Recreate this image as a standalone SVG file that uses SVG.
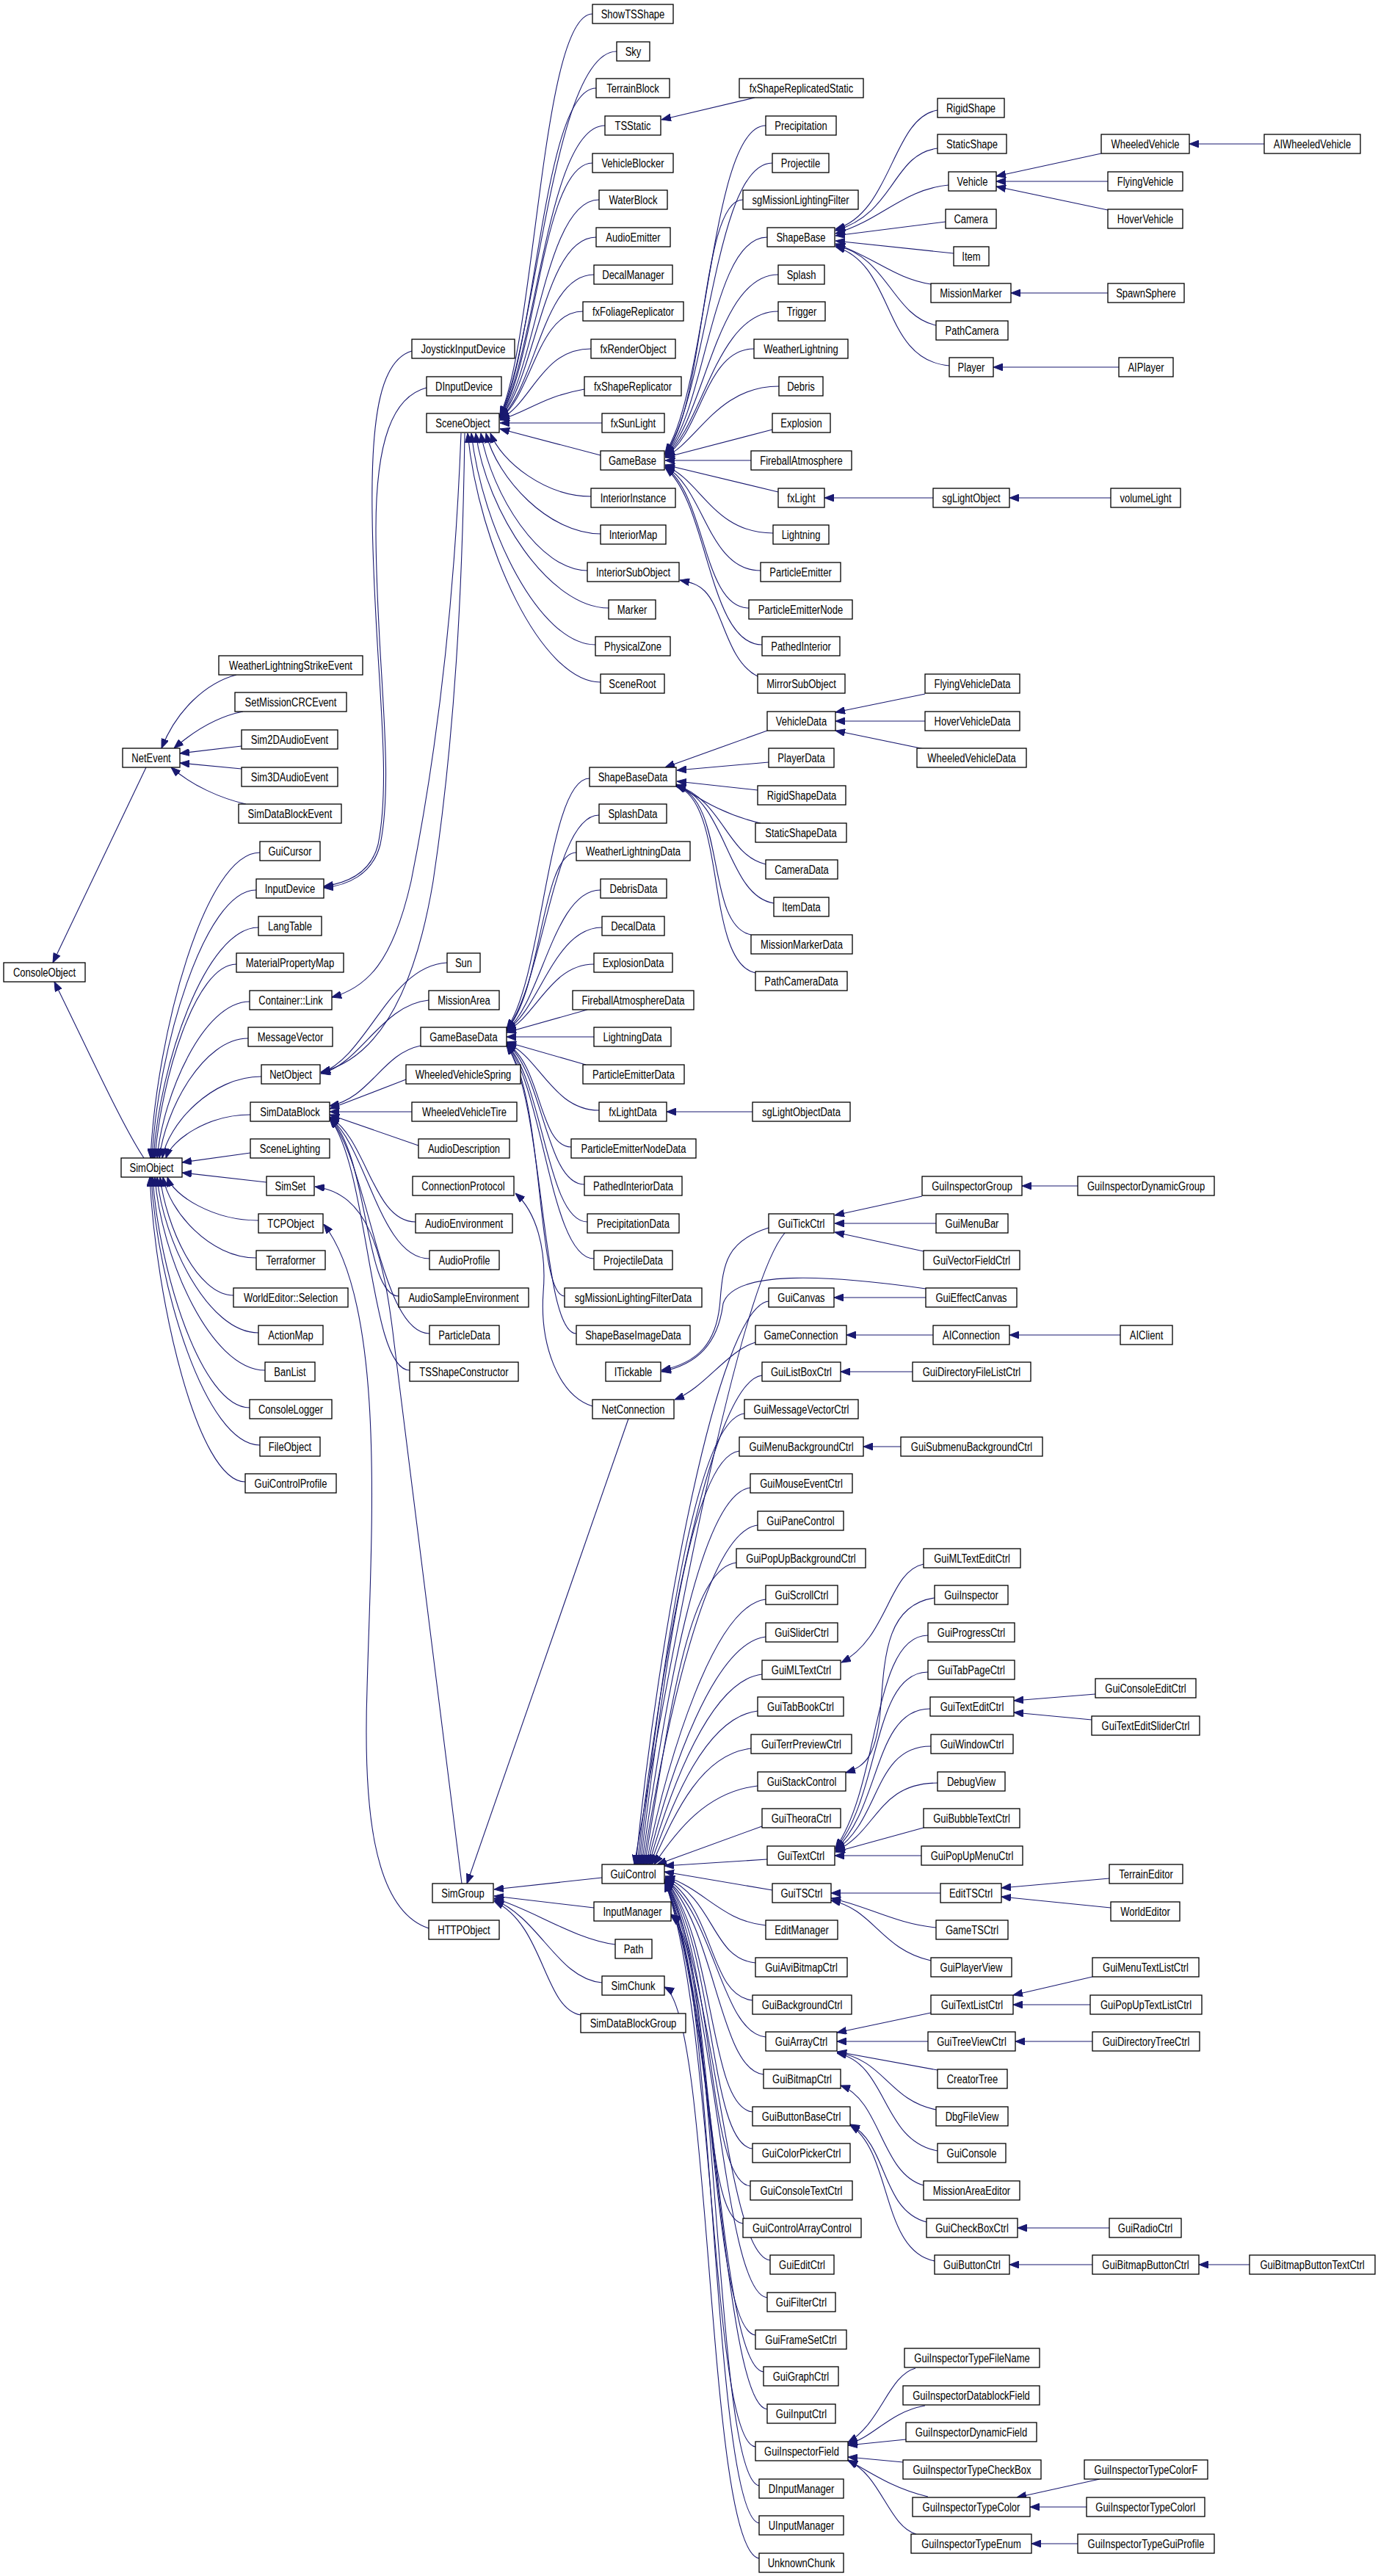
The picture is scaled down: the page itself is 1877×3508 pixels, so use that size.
<svg xmlns="http://www.w3.org/2000/svg" width="1877" height="3508" viewBox="0 0 1877 3508">
<style>
.n rect{fill:#fff;stroke:#000;stroke-width:1.3}
.n text{font-family:"Liberation Sans",Arial,Helvetica,sans-serif;font-size:13px;text-anchor:middle;fill:#000}
.e path{fill:none;stroke:#191970;stroke-width:1.1;marker-end:url(#a)}
</style>
<defs>
<marker id="a" viewBox="0 0 13 10" refX="13" refY="5" markerWidth="13" markerHeight="10" markerUnits="userSpaceOnUse" orient="auto"><path d="M0,0 L13,5 L0,10 z" fill="#191970" stroke="#191970" stroke-width="1"/></marker>
</defs>
<rect x="0" y="0" width="1877" height="3508" fill="#fff"/>
<g id="edges" class="e">
<path d="M199,1045 L72,1311"/>
<path d="M196,1577 C165,1530 120,1430 74,1337"/>
<path d="M322,919 C280,930 240,968 220,1019"/>
<path d="M331,969 C300,975 268,992 237,1019"/>
<path d="M329,1016 L245,1026"/>
<path d="M329,1047 L245,1039"/>
<path d="M335,1095 C300,1087 262,1070 233,1045"/>
<path d="M354,1161 C279,1161 213,1410 205,1577"/>
<path d="M349,1212 C278,1212 215,1430 207,1577"/>
<path d="M352,1263 C280,1263 217,1451 209,1577"/>
<path d="M322,1313 C266,1313 219,1471 211,1577"/>
<path d="M340,1364 C277,1364 222,1491 214,1577"/>
<path d="M338,1414 C277,1414 225,1511 217,1577"/>
<path d="M356,1466 C288,1466 229,1531 221,1577"/>
<path d="M341,1518 C283,1518 234,1552 226,1577"/>
<path d="M341,1570 L248,1583"/>
<path d="M363,1610 L248,1597"/>
<path d="M352,1662 C290,1662 236,1628 228,1603"/>
<path d="M349,1713 C285,1713 230,1648 222,1603"/>
<path d="M318,1764 C268,1764 226,1669 218,1603"/>
<path d="M352,1815 C283,1815 222,1689 214,1603"/>
<path d="M361,1866 C286,1866 219,1709 211,1603"/>
<path d="M340,1917 C274,1917 216,1729 208,1603"/>
<path d="M354,1968 C280,1968 214,1750 206,1603"/>
<path d="M334,2018 C269,2018 212,1770 204,1603"/>
<path d="M561,478 C520,490 505,560 507,700 C509,900 535,1050 515,1150 C505,1190 470,1203 441,1207"/>
<path d="M581,528 C535,540 512,600 512,720 C512,900 538,1050 518,1150 C507,1192 472,1206 441,1209"/>
<path d="M628,590 C620,800 600,1000 560,1200 C535,1310 500,1345 452,1358"/>
<path d="M633,590 C630,800 620,1000 590,1200 C560,1380 500,1445 437,1460"/>
<path d="M609,1311 C530,1315 500,1440 437,1461"/>
<path d="M584,1362 C520,1368 490,1450 437,1462"/>
<path d="M573,1424 C520,1435 505,1495 449,1506"/>
<path d="M553,1470 L449,1510"/>
<path d="M561,1514 L449,1514"/>
<path d="M570,1560 L449,1518"/>
<path d="M566,1664 C508,1664 500,1551 449,1521"/>
<path d="M585,1714 C517,1714 500,1561 449,1522"/>
<path d="M543,1765 C496,1765 502,1571 449,1522"/>
<path d="M585,1816 C517,1816 502,1581 449,1523"/>
<path d="M558,1866 C503,1866 503,1591 449,1523"/>
<path d="M807,19 C738,19 730,457 681,566"/>
<path d="M840,70 C753,70 730,468 681,567"/>
<path d="M812,120 C740,120 730,478 681,567"/>
<path d="M824,171 C745,171 730,488 681,568"/>
<path d="M807,222 C738,222 730,498 681,568"/>
<path d="M816,272 C742,272 730,508 681,569"/>
<path d="M812,323 C740,323 730,518 681,569"/>
<path d="M809,374 C739,374 730,528 681,570"/>
<path d="M794,424 C732,424 725,538 681,570"/>
<path d="M805,475 C737,475 725,549 681,571"/>
<path d="M796,530 C740,540 720,560 681,572"/>
<path d="M820,576 L681,576"/>
<path d="M818,620 L681,584"/>
<path d="M805,676 C743,676 683,629 668,590"/>
<path d="M818,727 C748,727 677,652 662,590"/>
<path d="M800,777 C735,777 670,674 655,590"/>
<path d="M829,828 C748,828 663,697 648,590"/>
<path d="M811,878 C735,878 657,720 642,590"/>
<path d="M818,929 C737,929 652,743 637,590"/>
<path d="M1028,133 L901,163"/>
<path d="M1032,921 C990,900 985,830 960,805 C950,795 940,793 926,790"/>
<path d="M1043,171 C968,171 965,528 906,617"/>
<path d="M1052,222 C972,222 965,538 906,618"/>
<path d="M1012,272 C954,272 962,550 906,619"/>
<path d="M1045,323 C969,323 962,560 906,619"/>
<path d="M1060,374 C975,374 960,571 906,620"/>
<path d="M1060,424 C975,424 958,581 906,621"/>
<path d="M1027,475 C960,475 955,592 906,621"/>
<path d="M1061,526 C976,526 950,603 906,622"/>
<path d="M1052,585 L906,623"/>
<path d="M1023,627 L906,627"/>
<path d="M1060,670 L906,633"/>
<path d="M1053,726 C972,726 955,654 906,634"/>
<path d="M1036,777 C964,777 960,665 906,635"/>
<path d="M1020,828 C957,828 962,675 906,636"/>
<path d="M1038,878 C965,878 965,685 906,637"/>
<path d="M1277,150 C1215,160 1215,290 1138,312"/>
<path d="M1277,202 C1215,210 1220,290 1138,314"/>
<path d="M1292,252 C1230,258 1200,300 1138,318"/>
<path d="M1288,302 L1138,321"/>
<path d="M1299,345 L1138,328"/>
<path d="M1268,387 C1220,380 1190,350 1138,332"/>
<path d="M1275,443 C1215,430 1210,350 1138,334"/>
<path d="M1293,498 C1200,490 1220,360 1138,336"/>
<path d="M1500,209 L1357,240"/>
<path d="M1509,247 L1357,247"/>
<path d="M1509,286 L1357,254"/>
<path d="M1722,196 L1620,196"/>
<path d="M1509,399 L1377,399"/>
<path d="M1524,500 L1353,500"/>
<path d="M1271,678 L1123,678"/>
<path d="M1513,678 L1375,678"/>
<path d="M803,1060 C746,1060 740,1332 690,1401"/>
<path d="M816,1110 C753,1110 740,1342 690,1402"/>
<path d="M785,1161 C737,1161 738,1353 690,1402"/>
<path d="M818,1212 C754,1212 738,1364 690,1403"/>
<path d="M820,1263 C755,1263 735,1375 690,1403"/>
<path d="M809,1313 C750,1313 730,1385 690,1404"/>
<path d="M800,1375 L690,1406"/>
<path d="M809,1412 L690,1412"/>
<path d="M798,1450 L690,1419"/>
<path d="M816,1512 C753,1512 735,1439 690,1420"/>
<path d="M778,1562 C734,1562 738,1450 690,1421"/>
<path d="M796,1613 C743,1613 740,1460 690,1421"/>
<path d="M800,1664 C745,1664 740,1471 690,1422"/>
<path d="M809,1714 C750,1714 740,1481 690,1422"/>
<path d="M769,1765 C730,1765 742,1492 690,1423"/>
<path d="M785,1816 C737,1816 742,1502 690,1423"/>
<path d="M1045,995 L906,1045"/>
<path d="M1047,1038 L922,1049"/>
<path d="M1032,1076 L922,1064"/>
<path d="M1036,1121 C980,1108 950,1085 921,1068"/>
<path d="M1043,1177 C990,1165 985,1090 921,1069"/>
<path d="M1054,1230 C990,1220 990,1090 921,1070"/>
<path d="M1023,1273 C960,1260 990,1090 921,1070"/>
<path d="M1029,1325 C960,1310 990,1090 921,1071"/>
<path d="M1260,945 L1138,970"/>
<path d="M1260,982 L1138,982"/>
<path d="M1259,1020 L1138,995"/>
<path d="M1025,1514 L908,1514"/>
<path d="M807,1915 C760,1900 735,1830 740,1760 C745,1700 730,1650 702,1625"/>
<path d="M856,1932 L636,2565"/>
<path d="M1029,1828 C990,1840 960,1890 919,1906"/>
<path d="M1047,1672 C990,1690 985,1720 981,1770 C977,1830 950,1856 901,1866"/>
<path d="M1261,1755 C1120,1735 1000,1730 985,1775 C978,1830 950,1858 901,1868"/>
<path d="M1256,1629 L1137,1655"/>
<path d="M1275,1666 L1137,1666"/>
<path d="M1258,1704 L1137,1678"/>
<path d="M1468,1615 L1392,1615"/>
<path d="M1261,1767 L1136,1767"/>
<path d="M1271,1818 L1153,1818"/>
<path d="M1526,1818 L1375,1818"/>
<path d="M1243,1868 L1145,1868"/>
<path d="M1227,1970 L1176,1970"/>
<path d="M1258,2130 C1210,2140 1210,2230 1146,2264"/>
<path d="M1273,2176 C1210,2185 1205,2250 1200,2320 C1195,2390 1180,2405 1152,2414"/>
<path d="M1264,2227 C1188,2227 1200,2427 1138,2517"/>
<path d="M1264,2277 C1188,2277 1200,2445 1138,2518"/>
<path d="M1267,2327 C1190,2327 1200,2462 1138,2519"/>
<path d="M1268,2378 C1190,2378 1200,2478 1138,2520"/>
<path d="M1277,2428 C1195,2428 1195,2495 1138,2521"/>
<path d="M1258,2489 L1138,2522"/>
<path d="M1255,2527 L1137,2527"/>
<path d="M1492,2307 L1381,2316"/>
<path d="M1487,2342 L1381,2332"/>
<path d="M1281,2578 L1132,2578"/>
<path d="M1275,2625 C1220,2620 1180,2595 1132,2585"/>
<path d="M1268,2670 C1200,2655 1190,2600 1132,2588"/>
<path d="M1511,2558 L1364,2571"/>
<path d="M1513,2598 L1364,2583"/>
<path d="M1268,2741 L1140,2768"/>
<path d="M1264,2780 L1140,2780"/>
<path d="M1277,2819 L1140,2794"/>
<path d="M1275,2873 C1210,2860 1205,2805 1140,2795"/>
<path d="M1277,2929 C1200,2915 1210,2810 1140,2796"/>
<path d="M1488,2692 L1380,2717"/>
<path d="M1485,2730 L1380,2730"/>
<path d="M1488,2780 L1383,2780"/>
<path d="M1258,2976 C1200,2960 1200,2860 1145,2840"/>
<path d="M1262,3026 C1200,3010 1210,2920 1158,2893"/>
<path d="M1273,3079 C1200,3065 1215,2930 1158,2894"/>
<path d="M1511,3034 L1386,3034"/>
<path d="M1488,3084 L1375,3084"/>
<path d="M1702,3084 L1633,3084"/>
<path d="M1247,3225 C1210,3235 1200,3300 1155,3326"/>
<path d="M1260,3276 C1210,3285 1190,3320 1155,3328"/>
<path d="M1234,3322 L1155,3330"/>
<path d="M1230,3353 L1155,3346"/>
<path d="M1264,3400 C1220,3390 1190,3370 1155,3350"/>
<path d="M1248,3451 C1210,3440 1200,3370 1155,3351"/>
<path d="M1498,3376 L1385,3401"/>
<path d="M1480,3414 L1403,3414"/>
<path d="M1468,3464 L1405,3464"/>
<path d="M1047,1772 C977,1780 896,2230 866,2539"/>
<path d="M1038,1873 C968,1881 898,2271 868,2539"/>
<path d="M1014,1925 C944,1933 900,2291 870,2539"/>
<path d="M1007,1976 C937,1984 902,2311 872,2539"/>
<path d="M1022,2026 C952,2034 904,2331 874,2539"/>
<path d="M1032,2077 C962,2085 906,2352 876,2539"/>
<path d="M1003,2128 C933,2136 908,2372 878,2539"/>
<path d="M1043,2178 C973,2186 910,2392 880,2539"/>
<path d="M1043,2229 C973,2237 912,2413 882,2539"/>
<path d="M1038,2280 C968,2288 914,2433 884,2539"/>
<path d="M1032,2330 C962,2338 916,2453 886,2539"/>
<path d="M1023,2381 C953,2389 918,2473 888,2539"/>
<path d="M1032,2432 C962,2440 921,2494 891,2539"/>
<path d="M1038,2487 L895,2539"/>
<path d="M1069,1679 Q1000,1760 864,2539"/>
<path d="M1045,2532 L905,2541"/>
<path d="M1052,2574 L905,2549"/>
<path d="M1043,2622 C983,2616 960,2573 906,2555"/>
<path d="M1029,2673 C969,2667 975,2587 906,2556"/>
<path d="M1025,2724 C965,2718 975,2600 906,2557"/>
<path d="M1043,2774 C983,2768 975,2613 906,2558"/>
<path d="M1040,2825 C980,2819 975,2626 906,2558"/>
<path d="M1025,2876 C965,2870 975,2640 906,2559"/>
<path d="M1025,2926 C965,2920 975,2652 906,2559"/>
<path d="M1022,2977 C962,2971 975,2666 906,2560"/>
<path d="M1012,3028 C952,3022 975,2678 906,2560"/>
<path d="M1049,3078 C989,3072 975,2692 906,2561"/>
<path d="M1045,3129 C985,3123 975,2704 906,2561"/>
<path d="M1029,3180 C969,3174 975,2718 906,2562"/>
<path d="M1040,3230 C980,3224 975,2730 906,2562"/>
<path d="M1045,3281 C985,3275 975,2744 906,2563"/>
<path d="M1029,3332 C969,3326 975,2757 906,2563"/>
<path d="M1034,3385 C972,3375 978,2650 914,2607"/>
<path d="M1034,3436 C970,3426 972,2655 914,2609"/>
<path d="M1034,3484 C962,3472 970,2740 905,2706"/>
<path d="M820,2557 L673,2573"/>
<path d="M809,2598 L673,2582"/>
<path d="M838,2648 C780,2640 725,2600 673,2585"/>
<path d="M820,2700 C760,2695 735,2612 673,2587"/>
<path d="M791,2744 C740,2735 742,2622 673,2589"/>
<path d="M629,2565 L537,1830 C522,1700 500,1625 429,1616"/>
<path d="M584,2626 C505,2600 495,2450 500,2300 C505,2100 528,1780 441,1667"/>
</g>
<g id="ConsoleObject" class="n"><rect x="5" y="1311" width="111" height="26"/><text transform="matrix(1 0 0 1.2 60.5 1329.5)">ConsoleObject</text></g>
<g id="NetEvent" class="n"><rect x="167" y="1019" width="78" height="26"/><text transform="matrix(1 0 0 1.2 206 1037.5)">NetEvent</text></g>
<g id="SimObject" class="n"><rect x="165" y="1577" width="83" height="26"/><text transform="matrix(1 0 0 1.2 206.5 1595.5)">SimObject</text></g>
<g id="WeatherLightningStrikeEvent" class="n"><rect x="298" y="893" width="196" height="26"/><text transform="matrix(1 0 0 1.2 396 911.5)">WeatherLightningStrikeEvent</text></g>
<g id="SetMissionCRCEvent" class="n"><rect x="320" y="943" width="152" height="26"/><text transform="matrix(1 0 0 1.2 396 961.5)">SetMissionCRCEvent</text></g>
<g id="Sim2DAudioEvent" class="n"><rect x="329" y="994" width="131" height="26"/><text transform="matrix(1 0 0 1.2 394.5 1012.5)">Sim2DAudioEvent</text></g>
<g id="Sim3DAudioEvent" class="n"><rect x="329" y="1045" width="131" height="26"/><text transform="matrix(1 0 0 1.2 394.5 1063.5)">Sim3DAudioEvent</text></g>
<g id="SimDataBlockEvent" class="n"><rect x="325" y="1095" width="140" height="26"/><text transform="matrix(1 0 0 1.2 395 1113.5)">SimDataBlockEvent</text></g>
<g id="GuiCursor" class="n"><rect x="354" y="1146" width="82" height="26"/><text transform="matrix(1 0 0 1.2 395 1164.5)">GuiCursor</text></g>
<g id="InputDevice" class="n"><rect x="349" y="1197" width="92" height="26"/><text transform="matrix(1 0 0 1.2 395 1215.5)">InputDevice</text></g>
<g id="LangTable" class="n"><rect x="352" y="1248" width="86" height="26"/><text transform="matrix(1 0 0 1.2 395 1266.5)">LangTable</text></g>
<g id="MaterialPropertyMap" class="n"><rect x="322" y="1298" width="146" height="26"/><text transform="matrix(1 0 0 1.2 395 1316.5)">MaterialPropertyMap</text></g>
<g id="Container_Link" class="n"><rect x="340" y="1349" width="112" height="26"/><text transform="matrix(1 0 0 1.2 396 1367.5)">Container::Link</text></g>
<g id="MessageVector" class="n"><rect x="338" y="1399" width="115" height="26"/><text transform="matrix(1 0 0 1.2 395.5 1417.5)">MessageVector</text></g>
<g id="NetObject" class="n"><rect x="356" y="1450" width="80" height="26"/><text transform="matrix(1 0 0 1.2 396 1468.5)">NetObject</text></g>
<g id="SimDataBlock" class="n"><rect x="341" y="1501" width="108" height="26"/><text transform="matrix(1 0 0 1.2 395 1519.5)">SimDataBlock</text></g>
<g id="SceneLighting" class="n"><rect x="341" y="1551" width="108" height="26"/><text transform="matrix(1 0 0 1.2 395 1569.5)">SceneLighting</text></g>
<g id="SimSet" class="n"><rect x="363" y="1602" width="65" height="26"/><text transform="matrix(1 0 0 1.2 395.5 1620.5)">SimSet</text></g>
<g id="TCPObject" class="n"><rect x="352" y="1653" width="88" height="26"/><text transform="matrix(1 0 0 1.2 396 1671.5)">TCPObject</text></g>
<g id="Terraformer" class="n"><rect x="349" y="1703" width="94" height="26"/><text transform="matrix(1 0 0 1.2 396 1721.5)">Terraformer</text></g>
<g id="WorldEditor_Selection" class="n"><rect x="318" y="1754" width="156" height="26"/><text transform="matrix(1 0 0 1.2 396 1772.5)">WorldEditor::Selection</text></g>
<g id="ActionMap" class="n"><rect x="352" y="1805" width="88" height="26"/><text transform="matrix(1 0 0 1.2 396 1823.5)">ActionMap</text></g>
<g id="BanList" class="n"><rect x="361" y="1855" width="68" height="26"/><text transform="matrix(1 0 0 1.2 395 1873.5)">BanList</text></g>
<g id="ConsoleLogger" class="n"><rect x="340" y="1906" width="112" height="26"/><text transform="matrix(1 0 0 1.2 396 1924.5)">ConsoleLogger</text></g>
<g id="FileObject" class="n"><rect x="354" y="1957" width="82" height="26"/><text transform="matrix(1 0 0 1.2 395 1975.5)">FileObject</text></g>
<g id="GuiControlProfile" class="n"><rect x="334" y="2007" width="124" height="26"/><text transform="matrix(1 0 0 1.2 396 2025.5)">GuiControlProfile</text></g>
<g id="JoystickInputDevice" class="n"><rect x="561" y="462" width="140" height="26"/><text transform="matrix(1 0 0 1.2 631 480.5)">JoystickInputDevice</text></g>
<g id="DInputDevice" class="n"><rect x="581" y="513" width="102" height="26"/><text transform="matrix(1 0 0 1.2 632 531.5)">DInputDevice</text></g>
<g id="SceneObject" class="n"><rect x="581" y="563" width="99" height="26"/><text transform="matrix(1 0 0 1.2 630.5 581.5)">SceneObject</text></g>
<g id="Sun" class="n"><rect x="609" y="1298" width="45" height="26"/><text transform="matrix(1 0 0 1.2 631.5 1316.5)">Sun</text></g>
<g id="MissionArea" class="n"><rect x="584" y="1349" width="96" height="26"/><text transform="matrix(1 0 0 1.2 632 1367.5)">MissionArea</text></g>
<g id="GameBaseData" class="n"><rect x="573" y="1399" width="117" height="26"/><text transform="matrix(1 0 0 1.2 631.5 1417.5)">GameBaseData</text></g>
<g id="WheeledVehicleSpring" class="n"><rect x="553" y="1450" width="156" height="26"/><text transform="matrix(1 0 0 1.2 631 1468.5)">WheeledVehicleSpring</text></g>
<g id="WheeledVehicleTire" class="n"><rect x="561" y="1501" width="143" height="26"/><text transform="matrix(1 0 0 1.2 632.5 1519.5)">WheeledVehicleTire</text></g>
<g id="AudioDescription" class="n"><rect x="570" y="1551" width="124" height="26"/><text transform="matrix(1 0 0 1.2 632 1569.5)">AudioDescription</text></g>
<g id="ConnectionProtocol" class="n"><rect x="562" y="1602" width="138" height="26"/><text transform="matrix(1 0 0 1.2 631 1620.5)">ConnectionProtocol</text></g>
<g id="AudioEnvironment" class="n"><rect x="566" y="1653" width="132" height="26"/><text transform="matrix(1 0 0 1.2 632 1671.5)">AudioEnvironment</text></g>
<g id="AudioProfile" class="n"><rect x="585" y="1703" width="95" height="26"/><text transform="matrix(1 0 0 1.2 632.5 1721.5)">AudioProfile</text></g>
<g id="AudioSampleEnvironment" class="n"><rect x="543" y="1754" width="177" height="26"/><text transform="matrix(1 0 0 1.2 631.5 1772.5)">AudioSampleEnvironment</text></g>
<g id="ParticleData" class="n"><rect x="585" y="1805" width="95" height="26"/><text transform="matrix(1 0 0 1.2 632.5 1823.5)">ParticleData</text></g>
<g id="TSShapeConstructor" class="n"><rect x="558" y="1855" width="148" height="26"/><text transform="matrix(1 0 0 1.2 632 1873.5)">TSShapeConstructor</text></g>
<g id="SimGroup" class="n"><rect x="589" y="2565" width="83" height="26"/><text transform="matrix(1 0 0 1.2 630.5 2583.5)">SimGroup</text></g>
<g id="HTTPObject" class="n"><rect x="584" y="2615" width="96" height="26"/><text transform="matrix(1 0 0 1.2 632 2633.5)">HTTPObject</text></g>
<g id="ShowTSShape" class="n"><rect x="807" y="6" width="110" height="26"/><text transform="matrix(1 0 0 1.2 862 24.5)">ShowTSShape</text></g>
<g id="Sky" class="n"><rect x="840" y="57" width="45" height="26"/><text transform="matrix(1 0 0 1.2 862.5 75.5)">Sky</text></g>
<g id="TerrainBlock" class="n"><rect x="812" y="107" width="100" height="26"/><text transform="matrix(1 0 0 1.2 862 125.5)">TerrainBlock</text></g>
<g id="TSStatic" class="n"><rect x="824" y="158" width="76" height="26"/><text transform="matrix(1 0 0 1.2 862 176.5)">TSStatic</text></g>
<g id="VehicleBlocker" class="n"><rect x="807" y="209" width="110" height="26"/><text transform="matrix(1 0 0 1.2 862 227.5)">VehicleBlocker</text></g>
<g id="WaterBlock" class="n"><rect x="816" y="259" width="93" height="26"/><text transform="matrix(1 0 0 1.2 862.5 277.5)">WaterBlock</text></g>
<g id="AudioEmitter" class="n"><rect x="812" y="310" width="101" height="26"/><text transform="matrix(1 0 0 1.2 862.5 328.5)">AudioEmitter</text></g>
<g id="DecalManager" class="n"><rect x="809" y="361" width="107" height="26"/><text transform="matrix(1 0 0 1.2 862.5 379.5)">DecalManager</text></g>
<g id="fxFoliageReplicator" class="n"><rect x="794" y="411" width="137" height="26"/><text transform="matrix(1 0 0 1.2 862.5 429.5)">fxFoliageReplicator</text></g>
<g id="fxRenderObject" class="n"><rect x="805" y="462" width="115" height="26"/><text transform="matrix(1 0 0 1.2 862.5 480.5)">fxRenderObject</text></g>
<g id="fxShapeReplicator" class="n"><rect x="796" y="513" width="132" height="26"/><text transform="matrix(1 0 0 1.2 862 531.5)">fxShapeReplicator</text></g>
<g id="fxSunLight" class="n"><rect x="820" y="563" width="85" height="26"/><text transform="matrix(1 0 0 1.2 862.5 581.5)">fxSunLight</text></g>
<g id="GameBase" class="n"><rect x="818" y="614" width="87" height="26"/><text transform="matrix(1 0 0 1.2 861.5 632.5)">GameBase</text></g>
<g id="InteriorInstance" class="n"><rect x="805" y="665" width="115" height="26"/><text transform="matrix(1 0 0 1.2 862.5 683.5)">InteriorInstance</text></g>
<g id="InteriorMap" class="n"><rect x="818" y="715" width="89" height="26"/><text transform="matrix(1 0 0 1.2 862.5 733.5)">InteriorMap</text></g>
<g id="InteriorSubObject" class="n"><rect x="800" y="766" width="125" height="26"/><text transform="matrix(1 0 0 1.2 862.5 784.5)">InteriorSubObject</text></g>
<g id="Marker" class="n"><rect x="829" y="817" width="64" height="26"/><text transform="matrix(1 0 0 1.2 861 835.5)">Marker</text></g>
<g id="PhysicalZone" class="n"><rect x="811" y="867" width="102" height="26"/><text transform="matrix(1 0 0 1.2 862 885.5)">PhysicalZone</text></g>
<g id="SceneRoot" class="n"><rect x="818" y="918" width="87" height="26"/><text transform="matrix(1 0 0 1.2 861.5 936.5)">SceneRoot</text></g>
<g id="ShapeBaseData" class="n"><rect x="803" y="1045" width="118" height="26"/><text transform="matrix(1 0 0 1.2 862 1063.5)">ShapeBaseData</text></g>
<g id="SplashData" class="n"><rect x="816" y="1095" width="92" height="26"/><text transform="matrix(1 0 0 1.2 862 1113.5)">SplashData</text></g>
<g id="WeatherLightningData" class="n"><rect x="785" y="1146" width="155" height="26"/><text transform="matrix(1 0 0 1.2 862.5 1164.5)">WeatherLightningData</text></g>
<g id="DebrisData" class="n"><rect x="818" y="1197" width="90" height="26"/><text transform="matrix(1 0 0 1.2 863 1215.5)">DebrisData</text></g>
<g id="DecalData" class="n"><rect x="820" y="1248" width="85" height="26"/><text transform="matrix(1 0 0 1.2 862.5 1266.5)">DecalData</text></g>
<g id="ExplosionData" class="n"><rect x="809" y="1298" width="107" height="26"/><text transform="matrix(1 0 0 1.2 862.5 1316.5)">ExplosionData</text></g>
<g id="FireballAtmosphereData" class="n"><rect x="780" y="1349" width="165" height="26"/><text transform="matrix(1 0 0 1.2 862.5 1367.5)">FireballAtmosphereData</text></g>
<g id="LightningData" class="n"><rect x="809" y="1399" width="105" height="26"/><text transform="matrix(1 0 0 1.2 861.5 1417.5)">LightningData</text></g>
<g id="ParticleEmitterData" class="n"><rect x="794" y="1450" width="138" height="26"/><text transform="matrix(1 0 0 1.2 863 1468.5)">ParticleEmitterData</text></g>
<g id="fxLightData" class="n"><rect x="816" y="1501" width="92" height="26"/><text transform="matrix(1 0 0 1.2 862 1519.5)">fxLightData</text></g>
<g id="ParticleEmitterNodeData" class="n"><rect x="778" y="1551" width="170" height="26"/><text transform="matrix(1 0 0 1.2 863 1569.5)">ParticleEmitterNodeData</text></g>
<g id="PathedInteriorData" class="n"><rect x="796" y="1602" width="133" height="26"/><text transform="matrix(1 0 0 1.2 862.5 1620.5)">PathedInteriorData</text></g>
<g id="PrecipitationData" class="n"><rect x="800" y="1653" width="125" height="26"/><text transform="matrix(1 0 0 1.2 862.5 1671.5)">PrecipitationData</text></g>
<g id="ProjectileData" class="n"><rect x="809" y="1703" width="107" height="26"/><text transform="matrix(1 0 0 1.2 862.5 1721.5)">ProjectileData</text></g>
<g id="sgMissionLightingFilterData" class="n"><rect x="769" y="1754" width="187" height="26"/><text transform="matrix(1 0 0 1.2 862.5 1772.5)">sgMissionLightingFilterData</text></g>
<g id="ShapeBaseImageData" class="n"><rect x="785" y="1805" width="155" height="26"/><text transform="matrix(1 0 0 1.2 862.5 1823.5)">ShapeBaseImageData</text></g>
<g id="ITickable" class="n"><rect x="825" y="1855" width="75" height="26"/><text transform="matrix(1 0 0 1.2 862.5 1873.5)">ITickable</text></g>
<g id="NetConnection" class="n"><rect x="807" y="1906" width="111" height="26"/><text transform="matrix(1 0 0 1.2 862.5 1924.5)">NetConnection</text></g>
<g id="GuiControl" class="n"><rect x="820" y="2539" width="85" height="26"/><text transform="matrix(1 0 0 1.2 862.5 2557.5)">GuiControl</text></g>
<g id="InputManager" class="n"><rect x="809" y="2590" width="105" height="26"/><text transform="matrix(1 0 0 1.2 861.5 2608.5)">InputManager</text></g>
<g id="Path" class="n"><rect x="838" y="2641" width="50" height="26"/><text transform="matrix(1 0 0 1.2 863 2659.5)">Path</text></g>
<g id="SimChunk" class="n"><rect x="820" y="2691" width="85" height="26"/><text transform="matrix(1 0 0 1.2 862.5 2709.5)">SimChunk</text></g>
<g id="SimDataBlockGroup" class="n"><rect x="791" y="2742" width="143" height="26"/><text transform="matrix(1 0 0 1.2 862.5 2760.5)">SimDataBlockGroup</text></g>
<g id="fxShapeReplicatedStatic" class="n"><rect x="1007" y="107" width="169" height="26"/><text transform="matrix(1 0 0 1.2 1091.5 125.5)">fxShapeReplicatedStatic</text></g>
<g id="Precipitation" class="n"><rect x="1043" y="158" width="96" height="26"/><text transform="matrix(1 0 0 1.2 1091 176.5)">Precipitation</text></g>
<g id="Projectile" class="n"><rect x="1052" y="209" width="77" height="26"/><text transform="matrix(1 0 0 1.2 1090.5 227.5)">Projectile</text></g>
<g id="sgMissionLightingFilter" class="n"><rect x="1012" y="259" width="157" height="26"/><text transform="matrix(1 0 0 1.2 1090.5 277.5)">sgMissionLightingFilter</text></g>
<g id="ShapeBase" class="n"><rect x="1045" y="310" width="92" height="26"/><text transform="matrix(1 0 0 1.2 1091 328.5)">ShapeBase</text></g>
<g id="Splash" class="n"><rect x="1060" y="361" width="63" height="26"/><text transform="matrix(1 0 0 1.2 1091.5 379.5)">Splash</text></g>
<g id="Trigger" class="n"><rect x="1060" y="411" width="64" height="26"/><text transform="matrix(1 0 0 1.2 1092 429.5)">Trigger</text></g>
<g id="WeatherLightning" class="n"><rect x="1027" y="462" width="128" height="26"/><text transform="matrix(1 0 0 1.2 1091 480.5)">WeatherLightning</text></g>
<g id="Debris" class="n"><rect x="1061" y="513" width="60" height="26"/><text transform="matrix(1 0 0 1.2 1091 531.5)">Debris</text></g>
<g id="Explosion" class="n"><rect x="1052" y="563" width="79" height="26"/><text transform="matrix(1 0 0 1.2 1091.5 581.5)">Explosion</text></g>
<g id="FireballAtmosphere" class="n"><rect x="1023" y="614" width="137" height="26"/><text transform="matrix(1 0 0 1.2 1091.5 632.5)">FireballAtmosphere</text></g>
<g id="fxLight" class="n"><rect x="1060" y="665" width="63" height="26"/><text transform="matrix(1 0 0 1.2 1091.5 683.5)">fxLight</text></g>
<g id="Lightning" class="n"><rect x="1053" y="715" width="76" height="26"/><text transform="matrix(1 0 0 1.2 1091 733.5)">Lightning</text></g>
<g id="ParticleEmitter" class="n"><rect x="1036" y="766" width="109" height="26"/><text transform="matrix(1 0 0 1.2 1090.5 784.5)">ParticleEmitter</text></g>
<g id="ParticleEmitterNode" class="n"><rect x="1020" y="817" width="141" height="26"/><text transform="matrix(1 0 0 1.2 1090.5 835.5)">ParticleEmitterNode</text></g>
<g id="PathedInterior" class="n"><rect x="1038" y="867" width="106" height="26"/><text transform="matrix(1 0 0 1.2 1091 885.5)">PathedInterior</text></g>
<g id="MirrorSubObject" class="n"><rect x="1032" y="918" width="119" height="26"/><text transform="matrix(1 0 0 1.2 1091.5 936.5)">MirrorSubObject</text></g>
<g id="VehicleData" class="n"><rect x="1045" y="969" width="93" height="26"/><text transform="matrix(1 0 0 1.2 1091.5 987.5)">VehicleData</text></g>
<g id="PlayerData" class="n"><rect x="1047" y="1019" width="89" height="26"/><text transform="matrix(1 0 0 1.2 1091.5 1037.5)">PlayerData</text></g>
<g id="RigidShapeData" class="n"><rect x="1032" y="1070" width="120" height="26"/><text transform="matrix(1 0 0 1.2 1092 1088.5)">RigidShapeData</text></g>
<g id="StaticShapeData" class="n"><rect x="1029" y="1121" width="124" height="26"/><text transform="matrix(1 0 0 1.2 1091 1139.5)">StaticShapeData</text></g>
<g id="CameraData" class="n"><rect x="1043" y="1171" width="98" height="26"/><text transform="matrix(1 0 0 1.2 1092 1189.5)">CameraData</text></g>
<g id="ItemData" class="n"><rect x="1054" y="1222" width="75" height="26"/><text transform="matrix(1 0 0 1.2 1091.5 1240.5)">ItemData</text></g>
<g id="MissionMarkerData" class="n"><rect x="1023" y="1273" width="138" height="26"/><text transform="matrix(1 0 0 1.2 1092 1291.5)">MissionMarkerData</text></g>
<g id="PathCameraData" class="n"><rect x="1029" y="1323" width="125" height="26"/><text transform="matrix(1 0 0 1.2 1091.5 1341.5)">PathCameraData</text></g>
<g id="sgLightObjectData" class="n"><rect x="1025" y="1501" width="133" height="26"/><text transform="matrix(1 0 0 1.2 1091.5 1519.5)">sgLightObjectData</text></g>
<g id="GuiTickCtrl" class="n"><rect x="1047" y="1653" width="89" height="26"/><text transform="matrix(1 0 0 1.2 1091.5 1671.5)">GuiTickCtrl</text></g>
<g id="GuiCanvas" class="n"><rect x="1047" y="1754" width="89" height="26"/><text transform="matrix(1 0 0 1.2 1091.5 1772.5)">GuiCanvas</text></g>
<g id="GameConnection" class="n"><rect x="1029" y="1805" width="124" height="26"/><text transform="matrix(1 0 0 1.2 1091 1823.5)">GameConnection</text></g>
<g id="GuiListBoxCtrl" class="n"><rect x="1038" y="1855" width="107" height="26"/><text transform="matrix(1 0 0 1.2 1091.5 1873.5)">GuiListBoxCtrl</text></g>
<g id="GuiMessageVectorCtrl" class="n"><rect x="1014" y="1906" width="155" height="26"/><text transform="matrix(1 0 0 1.2 1091.5 1924.5)">GuiMessageVectorCtrl</text></g>
<g id="GuiMenuBackgroundCtrl" class="n"><rect x="1007" y="1957" width="169" height="26"/><text transform="matrix(1 0 0 1.2 1091.5 1975.5)">GuiMenuBackgroundCtrl</text></g>
<g id="GuiMouseEventCtrl" class="n"><rect x="1022" y="2007" width="139" height="26"/><text transform="matrix(1 0 0 1.2 1091.5 2025.5)">GuiMouseEventCtrl</text></g>
<g id="GuiPaneControl" class="n"><rect x="1032" y="2058" width="117" height="26"/><text transform="matrix(1 0 0 1.2 1090.5 2076.5)">GuiPaneControl</text></g>
<g id="GuiPopUpBackgroundCtrl" class="n"><rect x="1003" y="2109" width="176" height="26"/><text transform="matrix(1 0 0 1.2 1091 2127.5)">GuiPopUpBackgroundCtrl</text></g>
<g id="GuiScrollCtrl" class="n"><rect x="1043" y="2159" width="98" height="26"/><text transform="matrix(1 0 0 1.2 1092 2177.5)">GuiScrollCtrl</text></g>
<g id="GuiSliderCtrl" class="n"><rect x="1043" y="2210" width="98" height="26"/><text transform="matrix(1 0 0 1.2 1092 2228.5)">GuiSliderCtrl</text></g>
<g id="GuiMLTextCtrl" class="n"><rect x="1038" y="2261" width="107" height="26"/><text transform="matrix(1 0 0 1.2 1091.5 2279.5)">GuiMLTextCtrl</text></g>
<g id="GuiTabBookCtrl" class="n"><rect x="1032" y="2311" width="117" height="26"/><text transform="matrix(1 0 0 1.2 1090.5 2329.5)">GuiTabBookCtrl</text></g>
<g id="GuiTerrPreviewCtrl" class="n"><rect x="1023" y="2362" width="137" height="26"/><text transform="matrix(1 0 0 1.2 1091.5 2380.5)">GuiTerrPreviewCtrl</text></g>
<g id="GuiStackControl" class="n"><rect x="1032" y="2413" width="120" height="26"/><text transform="matrix(1 0 0 1.2 1092 2431.5)">GuiStackControl</text></g>
<g id="GuiTheoraCtrl" class="n"><rect x="1038" y="2463" width="107" height="26"/><text transform="matrix(1 0 0 1.2 1091.5 2481.5)">GuiTheoraCtrl</text></g>
<g id="GuiTextCtrl" class="n"><rect x="1045" y="2514" width="92" height="26"/><text transform="matrix(1 0 0 1.2 1091 2532.5)">GuiTextCtrl</text></g>
<g id="GuiTSCtrl" class="n"><rect x="1052" y="2565" width="80" height="26"/><text transform="matrix(1 0 0 1.2 1092 2583.5)">GuiTSCtrl</text></g>
<g id="EditManager" class="n"><rect x="1043" y="2615" width="98" height="26"/><text transform="matrix(1 0 0 1.2 1092 2633.5)">EditManager</text></g>
<g id="GuiAviBitmapCtrl" class="n"><rect x="1029" y="2666" width="125" height="26"/><text transform="matrix(1 0 0 1.2 1091.5 2684.5)">GuiAviBitmapCtrl</text></g>
<g id="GuiBackgroundCtrl" class="n"><rect x="1025" y="2717" width="135" height="26"/><text transform="matrix(1 0 0 1.2 1092.5 2735.5)">GuiBackgroundCtrl</text></g>
<g id="GuiArrayCtrl" class="n"><rect x="1043" y="2767" width="97" height="26"/><text transform="matrix(1 0 0 1.2 1091.5 2785.5)">GuiArrayCtrl</text></g>
<g id="GuiBitmapCtrl" class="n"><rect x="1040" y="2818" width="105" height="26"/><text transform="matrix(1 0 0 1.2 1092.5 2836.5)">GuiBitmapCtrl</text></g>
<g id="GuiButtonBaseCtrl" class="n"><rect x="1025" y="2869" width="133" height="26"/><text transform="matrix(1 0 0 1.2 1091.5 2887.5)">GuiButtonBaseCtrl</text></g>
<g id="GuiColorPickerCtrl" class="n"><rect x="1025" y="2919" width="133" height="26"/><text transform="matrix(1 0 0 1.2 1091.5 2937.5)">GuiColorPickerCtrl</text></g>
<g id="GuiConsoleTextCtrl" class="n"><rect x="1022" y="2970" width="139" height="26"/><text transform="matrix(1 0 0 1.2 1091.5 2988.5)">GuiConsoleTextCtrl</text></g>
<g id="GuiControlArrayControl" class="n"><rect x="1012" y="3021" width="161" height="26"/><text transform="matrix(1 0 0 1.2 1092.5 3039.5)">GuiControlArrayControl</text></g>
<g id="GuiEditCtrl" class="n"><rect x="1049" y="3071" width="87" height="26"/><text transform="matrix(1 0 0 1.2 1092.5 3089.5)">GuiEditCtrl</text></g>
<g id="GuiFilterCtrl" class="n"><rect x="1045" y="3122" width="93" height="26"/><text transform="matrix(1 0 0 1.2 1091.5 3140.5)">GuiFilterCtrl</text></g>
<g id="GuiFrameSetCtrl" class="n"><rect x="1029" y="3173" width="124" height="26"/><text transform="matrix(1 0 0 1.2 1091 3191.5)">GuiFrameSetCtrl</text></g>
<g id="GuiGraphCtrl" class="n"><rect x="1040" y="3223" width="102" height="26"/><text transform="matrix(1 0 0 1.2 1091 3241.5)">GuiGraphCtrl</text></g>
<g id="GuiInputCtrl" class="n"><rect x="1045" y="3274" width="93" height="26"/><text transform="matrix(1 0 0 1.2 1091.5 3292.5)">GuiInputCtrl</text></g>
<g id="GuiInspectorField" class="n"><rect x="1029" y="3325" width="126" height="26"/><text transform="matrix(1 0 0 1.2 1092 3343.5)">GuiInspectorField</text></g>
<g id="DInputManager" class="n"><rect x="1034" y="3376" width="115" height="26"/><text transform="matrix(1 0 0 1.2 1091.5 3394.5)">DInputManager</text></g>
<g id="UInputManager" class="n"><rect x="1034" y="3426" width="115" height="26"/><text transform="matrix(1 0 0 1.2 1091.5 3444.5)">UInputManager</text></g>
<g id="UnknownChunk" class="n"><rect x="1034" y="3477" width="115" height="26"/><text transform="matrix(1 0 0 1.2 1091.5 3495.5)">UnknownChunk</text></g>
<g id="RigidShape" class="n"><rect x="1277" y="134" width="91" height="26"/><text transform="matrix(1 0 0 1.2 1322.5 152.5)">RigidShape</text></g>
<g id="StaticShape" class="n"><rect x="1277" y="183" width="94" height="26"/><text transform="matrix(1 0 0 1.2 1324 201.5)">StaticShape</text></g>
<g id="Vehicle" class="n"><rect x="1292" y="234" width="65" height="26"/><text transform="matrix(1 0 0 1.2 1324.5 252.5)">Vehicle</text></g>
<g id="Camera" class="n"><rect x="1288" y="285" width="69" height="26"/><text transform="matrix(1 0 0 1.2 1322.5 303.5)">Camera</text></g>
<g id="Item" class="n"><rect x="1299" y="336" width="48" height="26"/><text transform="matrix(1 0 0 1.2 1323 354.5)">Item</text></g>
<g id="MissionMarker" class="n"><rect x="1268" y="386" width="109" height="26"/><text transform="matrix(1 0 0 1.2 1322.5 404.5)">MissionMarker</text></g>
<g id="PathCamera" class="n"><rect x="1275" y="437" width="98" height="26"/><text transform="matrix(1 0 0 1.2 1324 455.5)">PathCamera</text></g>
<g id="Player" class="n"><rect x="1293" y="487" width="60" height="26"/><text transform="matrix(1 0 0 1.2 1323 505.5)">Player</text></g>
<g id="sgLightObject" class="n"><rect x="1271" y="665" width="104" height="26"/><text transform="matrix(1 0 0 1.2 1323 683.5)">sgLightObject</text></g>
<g id="FlyingVehicleData" class="n"><rect x="1260" y="918" width="129" height="26"/><text transform="matrix(1 0 0 1.2 1324.5 936.5)">FlyingVehicleData</text></g>
<g id="HoverVehicleData" class="n"><rect x="1260" y="969" width="129" height="26"/><text transform="matrix(1 0 0 1.2 1324.5 987.5)">HoverVehicleData</text></g>
<g id="WheeledVehicleData" class="n"><rect x="1249" y="1019" width="149" height="26"/><text transform="matrix(1 0 0 1.2 1323.5 1037.5)">WheeledVehicleData</text></g>
<g id="GuiInspectorGroup" class="n"><rect x="1256" y="1602" width="136" height="26"/><text transform="matrix(1 0 0 1.2 1324 1620.5)">GuiInspectorGroup</text></g>
<g id="GuiMenuBar" class="n"><rect x="1275" y="1653" width="98" height="26"/><text transform="matrix(1 0 0 1.2 1324 1671.5)">GuiMenuBar</text></g>
<g id="GuiVectorFieldCtrl" class="n"><rect x="1258" y="1703" width="131" height="26"/><text transform="matrix(1 0 0 1.2 1323.5 1721.5)">GuiVectorFieldCtrl</text></g>
<g id="GuiEffectCanvas" class="n"><rect x="1261" y="1754" width="124" height="26"/><text transform="matrix(1 0 0 1.2 1323 1772.5)">GuiEffectCanvas</text></g>
<g id="AIConnection" class="n"><rect x="1271" y="1805" width="104" height="26"/><text transform="matrix(1 0 0 1.2 1323 1823.5)">AIConnection</text></g>
<g id="GuiDirectoryFileListCtrl" class="n"><rect x="1243" y="1855" width="161" height="26"/><text transform="matrix(1 0 0 1.2 1323.5 1873.5)">GuiDirectoryFileListCtrl</text></g>
<g id="GuiSubmenuBackgroundCtrl" class="n"><rect x="1227" y="1957" width="193" height="26"/><text transform="matrix(1 0 0 1.2 1323.5 1975.5)">GuiSubmenuBackgroundCtrl</text></g>
<g id="GuiMLTextEditCtrl" class="n"><rect x="1258" y="2109" width="132" height="26"/><text transform="matrix(1 0 0 1.2 1324 2127.5)">GuiMLTextEditCtrl</text></g>
<g id="GuiInspector" class="n"><rect x="1273" y="2159" width="100" height="26"/><text transform="matrix(1 0 0 1.2 1323 2177.5)">GuiInspector</text></g>
<g id="GuiProgressCtrl" class="n"><rect x="1264" y="2210" width="118" height="26"/><text transform="matrix(1 0 0 1.2 1323 2228.5)">GuiProgressCtrl</text></g>
<g id="GuiTabPageCtrl" class="n"><rect x="1264" y="2261" width="118" height="26"/><text transform="matrix(1 0 0 1.2 1323 2279.5)">GuiTabPageCtrl</text></g>
<g id="GuiTextEditCtrl" class="n"><rect x="1267" y="2311" width="114" height="26"/><text transform="matrix(1 0 0 1.2 1324 2329.5)">GuiTextEditCtrl</text></g>
<g id="GuiWindowCtrl" class="n"><rect x="1268" y="2362" width="112" height="26"/><text transform="matrix(1 0 0 1.2 1324 2380.5)">GuiWindowCtrl</text></g>
<g id="DebugView" class="n"><rect x="1277" y="2413" width="92" height="26"/><text transform="matrix(1 0 0 1.2 1323 2431.5)">DebugView</text></g>
<g id="GuiBubbleTextCtrl" class="n"><rect x="1258" y="2463" width="131" height="26"/><text transform="matrix(1 0 0 1.2 1323.5 2481.5)">GuiBubbleTextCtrl</text></g>
<g id="GuiPopUpMenuCtrl" class="n"><rect x="1255" y="2514" width="138" height="26"/><text transform="matrix(1 0 0 1.2 1324 2532.5)">GuiPopUpMenuCtrl</text></g>
<g id="EditTSCtrl" class="n"><rect x="1281" y="2565" width="83" height="26"/><text transform="matrix(1 0 0 1.2 1322.5 2583.5)">EditTSCtrl</text></g>
<g id="GameTSCtrl" class="n"><rect x="1275" y="2615" width="98" height="26"/><text transform="matrix(1 0 0 1.2 1324 2633.5)">GameTSCtrl</text></g>
<g id="GuiPlayerView" class="n"><rect x="1268" y="2666" width="110" height="26"/><text transform="matrix(1 0 0 1.2 1323 2684.5)">GuiPlayerView</text></g>
<g id="GuiTextListCtrl" class="n"><rect x="1268" y="2717" width="112" height="26"/><text transform="matrix(1 0 0 1.2 1324 2735.5)">GuiTextListCtrl</text></g>
<g id="GuiTreeViewCtrl" class="n"><rect x="1264" y="2767" width="119" height="26"/><text transform="matrix(1 0 0 1.2 1323.5 2785.5)">GuiTreeViewCtrl</text></g>
<g id="CreatorTree" class="n"><rect x="1277" y="2818" width="95" height="26"/><text transform="matrix(1 0 0 1.2 1324.5 2836.5)">CreatorTree</text></g>
<g id="DbgFileView" class="n"><rect x="1275" y="2869" width="98" height="26"/><text transform="matrix(1 0 0 1.2 1324 2887.5)">DbgFileView</text></g>
<g id="GuiConsole" class="n"><rect x="1277" y="2919" width="93" height="26"/><text transform="matrix(1 0 0 1.2 1323.5 2937.5)">GuiConsole</text></g>
<g id="MissionAreaEditor" class="n"><rect x="1258" y="2970" width="131" height="26"/><text transform="matrix(1 0 0 1.2 1323.5 2988.5)">MissionAreaEditor</text></g>
<g id="GuiCheckBoxCtrl" class="n"><rect x="1262" y="3021" width="124" height="26"/><text transform="matrix(1 0 0 1.2 1324 3039.5)">GuiCheckBoxCtrl</text></g>
<g id="GuiButtonCtrl" class="n"><rect x="1273" y="3071" width="102" height="26"/><text transform="matrix(1 0 0 1.2 1324 3089.5)">GuiButtonCtrl</text></g>
<g id="GuiInspectorTypeFileName" class="n"><rect x="1232" y="3198" width="184" height="26"/><text transform="matrix(1 0 0 1.2 1324 3216.5)">GuiInspectorTypeFileName</text></g>
<g id="GuiInspectorDatablockField" class="n"><rect x="1230" y="3249" width="186" height="26"/><text transform="matrix(1 0 0 1.2 1323 3267.5)">GuiInspectorDatablockField</text></g>
<g id="GuiInspectorDynamicField" class="n"><rect x="1234" y="3299" width="178" height="26"/><text transform="matrix(1 0 0 1.2 1323 3317.5)">GuiInspectorDynamicField</text></g>
<g id="GuiInspectorTypeCheckBox" class="n"><rect x="1230" y="3350" width="188" height="26"/><text transform="matrix(1 0 0 1.2 1324 3368.5)">GuiInspectorTypeCheckBox</text></g>
<g id="GuiInspectorTypeColor" class="n"><rect x="1243" y="3401" width="160" height="26"/><text transform="matrix(1 0 0 1.2 1323 3419.5)">GuiInspectorTypeColor</text></g>
<g id="GuiInspectorTypeEnum" class="n"><rect x="1241" y="3451" width="164" height="26"/><text transform="matrix(1 0 0 1.2 1323 3469.5)">GuiInspectorTypeEnum</text></g>
<g id="WheeledVehicle" class="n"><rect x="1500" y="183" width="120" height="26"/><text transform="matrix(1 0 0 1.2 1560 201.5)">WheeledVehicle</text></g>
<g id="FlyingVehicle" class="n"><rect x="1509" y="234" width="102" height="26"/><text transform="matrix(1 0 0 1.2 1560 252.5)">FlyingVehicle</text></g>
<g id="HoverVehicle" class="n"><rect x="1509" y="285" width="102" height="26"/><text transform="matrix(1 0 0 1.2 1560 303.5)">HoverVehicle</text></g>
<g id="SpawnSphere" class="n"><rect x="1509" y="386" width="104" height="26"/><text transform="matrix(1 0 0 1.2 1561 404.5)">SpawnSphere</text></g>
<g id="AIPlayer" class="n"><rect x="1524" y="487" width="74" height="26"/><text transform="matrix(1 0 0 1.2 1561 505.5)">AIPlayer</text></g>
<g id="volumeLight" class="n"><rect x="1513" y="665" width="95" height="26"/><text transform="matrix(1 0 0 1.2 1560.5 683.5)">volumeLight</text></g>
<g id="GuiInspectorDynamicGroup" class="n"><rect x="1468" y="1602" width="186" height="26"/><text transform="matrix(1 0 0 1.2 1561 1620.5)">GuiInspectorDynamicGroup</text></g>
<g id="AIClient" class="n"><rect x="1526" y="1805" width="71" height="26"/><text transform="matrix(1 0 0 1.2 1561.5 1823.5)">AIClient</text></g>
<g id="GuiConsoleEditCtrl" class="n"><rect x="1492" y="2286" width="137" height="26"/><text transform="matrix(1 0 0 1.2 1560.5 2304.5)">GuiConsoleEditCtrl</text></g>
<g id="GuiTextEditSliderCtrl" class="n"><rect x="1487" y="2337" width="147" height="26"/><text transform="matrix(1 0 0 1.2 1560.5 2355.5)">GuiTextEditSliderCtrl</text></g>
<g id="TerrainEditor" class="n"><rect x="1511" y="2539" width="100" height="26"/><text transform="matrix(1 0 0 1.2 1561 2557.5)">TerrainEditor</text></g>
<g id="WorldEditor" class="n"><rect x="1513" y="2590" width="94" height="26"/><text transform="matrix(1 0 0 1.2 1560 2608.5)">WorldEditor</text></g>
<g id="GuiMenuTextListCtrl" class="n"><rect x="1488" y="2666" width="145" height="26"/><text transform="matrix(1 0 0 1.2 1560.5 2684.5)">GuiMenuTextListCtrl</text></g>
<g id="GuiPopUpTextListCtrl" class="n"><rect x="1485" y="2717" width="152" height="26"/><text transform="matrix(1 0 0 1.2 1561 2735.5)">GuiPopUpTextListCtrl</text></g>
<g id="GuiDirectoryTreeCtrl" class="n"><rect x="1488" y="2767" width="146" height="26"/><text transform="matrix(1 0 0 1.2 1561 2785.5)">GuiDirectoryTreeCtrl</text></g>
<g id="GuiRadioCtrl" class="n"><rect x="1511" y="3021" width="98" height="26"/><text transform="matrix(1 0 0 1.2 1560 3039.5)">GuiRadioCtrl</text></g>
<g id="GuiBitmapButtonCtrl" class="n"><rect x="1488" y="3071" width="145" height="26"/><text transform="matrix(1 0 0 1.2 1560.5 3089.5)">GuiBitmapButtonCtrl</text></g>
<g id="GuiInspectorTypeColorF" class="n"><rect x="1477" y="3350" width="168" height="26"/><text transform="matrix(1 0 0 1.2 1561 3368.5)">GuiInspectorTypeColorF</text></g>
<g id="GuiInspectorTypeColorI" class="n"><rect x="1480" y="3401" width="161" height="26"/><text transform="matrix(1 0 0 1.2 1560.5 3419.5)">GuiInspectorTypeColorI</text></g>
<g id="GuiInspectorTypeGuiProfile" class="n"><rect x="1468" y="3451" width="186" height="26"/><text transform="matrix(1 0 0 1.2 1561 3469.5)">GuiInspectorTypeGuiProfile</text></g>
<g id="AIWheeledVehicle" class="n"><rect x="1722" y="183" width="131" height="26"/><text transform="matrix(1 0 0 1.2 1787.5 201.5)">AIWheeledVehicle</text></g>
<g id="GuiBitmapButtonTextCtrl" class="n"><rect x="1702" y="3071" width="171" height="26"/><text transform="matrix(1 0 0 1.2 1787.5 3089.5)">GuiBitmapButtonTextCtrl</text></g>
</svg>
